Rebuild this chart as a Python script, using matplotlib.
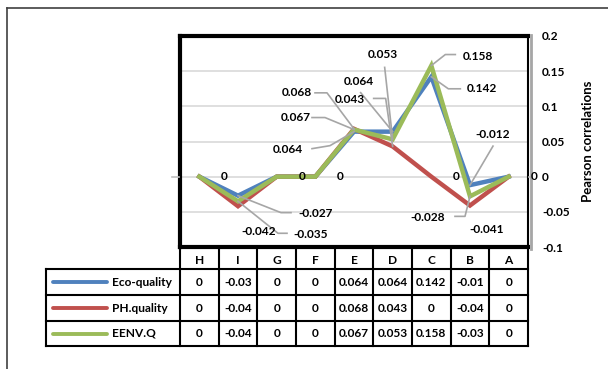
import matplotlib
matplotlib.use('Agg')
import matplotlib.pyplot as plt

plt.rcParams['font.family'] = ['Lato', 'DejaVu Sans']
plt.rcParams['font.weight'] = 'bold'

categories = ['H', 'I', 'G', 'F', 'E', 'D', 'C', 'B', 'A']
series_names = ['Eco-quality', 'PH.quality', 'EENV.Q']
eco_quality = [0, -0.027, 0, 0, 0.064, 0.064, 0.142, -0.012, 0]
ph_quality = [0, -0.042, 0, 0, 0.068, 0.043, 0, -0.041, 0]
eenv_q = [0, -0.035, 0, 0, 0.067, 0.053, 0.158, -0.028, 0]
table_eco = ['0', '-0.03', '0', '0', '0.064', '0.064', '0.142', '-0.01', '0']
table_ph = ['0', '-0.04', '0', '0', '0.068', '0.043', '0', '-0.04', '0']
table_eenv = ['0', '-0.04', '0', '0', '0.067', '0.053', '0.158', '-0.03', '0']
y_ticks = [-0.1, -0.05, 0, 0.05, 0.1, 0.15, 0.2]
y_tick_labels = ['-0.1', '-0.05', '0', '0.05', '0.1', '0.15', '0.2']

colors = ['#4F81BD', '#C0504D', '#9BBB59']
values = [eco_quality, ph_quality, eenv_q]
table_rows = [table_eco, table_ph, table_eenv]

# label placement: (series, category index, text offset, leader path offsets) in pixels
label_layout = [
    (0, 1, (78, 18), [(43, 17), (53, 17)]),
    (1, 1, (21, 25), []),
    (2, 1, (73, 33), [(40, 32), (49, 32)]),
    (1, 4, (-57, -36), [(-27, -36), (-39, -36)]),
    (2, 4, (-58, -12), [(-29, -12), (-42, -12)]),
    (0, 4, (-66, 18), [(-24, 14), (-42, 17)]),
    (0, 5, (-34, -50), [(-32, -39)]),
    (1, 5, (-43, -47), [(-7, -48), (-19, -48)]),
    (2, 5, (-10, -85), [(-8, -72)]),
    (2, 6, (47, -9), [(14, -11), (24, -11)]),
    (0, 6, (51, 12), [(17, 12), (29, 12)]),
    (0, 7, (23, -51), [(23, -39)]),
    (2, 7, (-42, 21), [(-5, 20), (-15, 20)]),
    (1, 7, (17, 24), []),
]
zero_offset = (25, 0)
fs = 8.6

W, H = 608, 369
fig = plt.figure(figsize=(W / 100, H / 100), dpi=100)

# main plotting area
ax = fig.add_axes([180 / W, 1 - 247 / H, 348 / W, 211 / H])
x = list(range(len(categories)))
for vals, c in zip(values, colors):
    ax.plot(x, vals, color=c, linewidth=3.2, solid_joinstyle='miter', zorder=3)
ax.set_xlim(-0.5, len(categories) - 0.5)
ax.set_ylim(-0.1, 0.2)
ax.set_xticks([])
ax.yaxis.tick_right()
ax.set_yticks(y_ticks)
ax.set_yticklabels(y_tick_labels, fontsize=fs, fontweight='bold')
ax.tick_params(axis='y', length=0, pad=10)
for t in [-0.05, 0, 0.05, 0.1, 0.15]:
    ax.axhline(t, color='#D9D9D9', linewidth=1.2, zorder=1)
for side in ['left', 'top', 'bottom']:
    ax.spines[side].set_linewidth(3)
ax.spines['right'].set_linewidth(1.5)

# overlay in pixel coordinates for the table, leaders and frame
ov = fig.add_axes([0, 0, 1, 1], zorder=5)
ov.set_xlim(0, W)
ov.set_ylim(H, 0)
ov.axis('off')
ov.patch.set_alpha(0)


def px(i, v):
    dx, dy = ax.transData.transform((i, v))
    return dx, H - dy


# zero line stubs just outside both sides of the plot
x0, y0 = px(-0.5, 0)
x1, _ = px(len(categories) - 0.5, 0)
ov.plot([x0 - 8, x0 - 1], [y0, y0], color='#BFBFBF', linewidth=1.2)
ov.plot([x1 + 1, x1 + 4], [y0, y0], color='#BFBFBF', linewidth=1.2)

# gray edge beside the right border
ov.plot([x1 + 2.5, x1 + 2.5], [35, 249], color='#A6A6A6', linewidth=2)

for s, i, (tx, ty), path in label_layout:
    v = values[s][i]
    px0, py0 = px(i, v)
    if path:
        xs = [px0] + [px0 + p[0] for p in path]
        ys = [py0] + [py0 + p[1] for p in path]
        ov.plot(xs, ys, color='#A6A6A6', linewidth=1.2)
    ov.text(px0 + tx, py0 + ty, f'{v:g}', ha='center', va='center',
            fontsize=fs, fontweight='bold')

zero_spots = sorted({i for vals in values for i, v in enumerate(vals) if v == 0})
for i in zero_spots:
    if i == 0 or i >= 2:
        zx, zy = px(i, 0)
        ov.text(zx + zero_offset[0], zy + zero_offset[1], '0', ha='center',
                va='center', fontsize=fs, fontweight='bold')

ov.text(588, 141, 'Pearson correlations', rotation=90, ha='center',
        va='center', fontsize=9.5, fontweight='bold')

# data table under the plot
col_left = 180
col_w = 348 / len(categories)
row_edges = [249, 269, 295, 321, 346]
legend_left = 46
lw = 1.5
for k in range(len(categories) + 1):
    xe = col_left + k * col_w
    ov.plot([xe, xe], [row_edges[0], row_edges[-1]], color='black', linewidth=lw)
ov.plot([legend_left, legend_left], [row_edges[1], row_edges[-1]], color='black', linewidth=lw)
for ye in row_edges[1:]:
    ov.plot([legend_left, col_left + 348], [ye, ye], color='black', linewidth=lw)

for k, cat in enumerate(categories):
    ov.text(col_left + (k + 0.5) * col_w, (row_edges[0] + row_edges[1]) / 2 + 1, cat,
            ha='center', va='center', fontsize=fs, fontweight='bold')

for r, (name, c, cells) in enumerate(zip(series_names, colors, table_rows)):
    yc = (row_edges[r + 1] + row_edges[r + 2]) / 2
    ov.plot([53, 107], [yc, yc], color=c, linewidth=2.8, solid_capstyle='round')
    ov.text(112, yc, name, ha='left', va='center', fontsize=fs, fontweight='bold')
    for k, cell in enumerate(cells):
        ov.text(col_left + (k + 0.5) * col_w, yc, cell, ha='center',
                va='center', fontsize=fs, fontweight='bold')

# outer chart frame
ov.plot([7, W], [8, 8], color='#404040', linewidth=1.2)
ov.plot([7, 7], [8, H], color='#404040', linewidth=1.2)

fig.savefig('out.png', dpi=100)
